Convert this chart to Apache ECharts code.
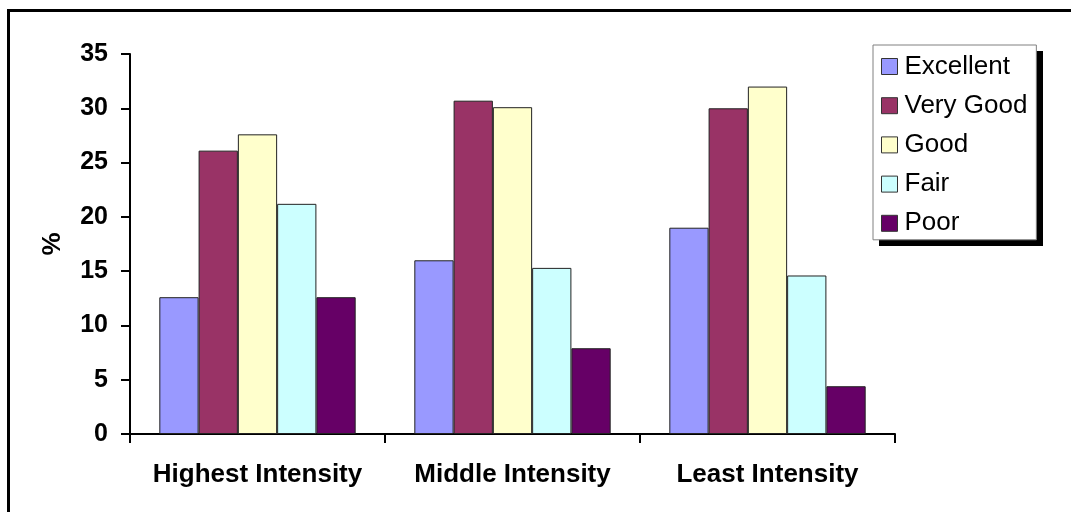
<!DOCTYPE html>
<html>
<head>
<meta charset="utf-8">
<script src="https://cdn.jsdelivr.net/npm/echarts@6/dist/echarts.min.js"></script>
<style>
  html, body { margin: 0; padding: 0; background: #fff; }
  #chart { width: 1071px; height: 512px; }
</style>
</head>
<body>
<div id="chart"></div>
<script>
// Self-rated health by intensity group (%)
const categories = ['Highest Intensity', 'Middle Intensity', 'Least Intensity'];
const seriesNames = ['Excellent', 'Very Good', 'Good', 'Fair', 'Poor'];
const excellent = [12.6, 16.0, 19.0];
const veryGood = [26.1, 30.7, 30.0];
const good = [27.6, 30.1, 32.0];
const fair = [21.2, 15.3, 14.6];
const poor = [12.6, 7.9, 4.4];
const colors = ['#9999FF', '#993366', '#FFFFCC', '#CCFFFF', '#660066'];
const yTicks = [0, 5, 10, 15, 20, 25, 30, 35];

const values = [excellent, veryGood, good, fair, poor];
const FONT = '"Liberation Sans", Arial, sans-serif';

const chart = echarts.init(document.getElementById('chart'), null, { renderer: 'canvas' });

chart.setOption({
  animation: false,
  backgroundColor: '#ffffff',
  textStyle: { fontFamily: FONT },
  graphic: [
    // outer chart frame (left and top edges visible)
    { type: 'polyline', silent: true, z: 0,
      shape: { points: [[8.5, 520], [8.5, 10.5], [1080, 10.5]] },
      style: { stroke: '#000', lineWidth: 3, fill: null } },
    // solid drop shadow behind the legend box
    { type: 'rect', silent: true, z: 0,
      shape: { x: 879, y: 51, width: 164, height: 195 },
      style: { fill: '#000' } }
  ],
  grid: { left: 130, right: 176, top: 54, bottom: 78 },
  legend: {
    orient: 'vertical',
    left: 873,
    top: 45,
    padding: [8.5, 9, 3.5, 8],
    backgroundColor: '#fff',
    borderColor: '#808080',
    borderWidth: 1,
    itemWidth: 16,
    itemHeight: 16,
    itemGap: 13.2,
    icon: 'rect',
    itemStyle: { borderColor: '#333', borderWidth: 1 },
    textStyle: { fontFamily: FONT, fontSize: 26, color: '#000', lineHeight: 25, padding: [0, 0, 0, 2] },
    data: seriesNames
  },
  xAxis: {
    type: 'category',
    data: categories,
    axisLine: { lineStyle: { color: '#000', width: 2 } },
    axisTick: { show: true, interval: 0, length: 9, lineStyle: { color: '#000', width: 2 } },
    axisLabel: { interval: 0, hideOverlap: false, fontFamily: FONT, fontSize: 26, fontWeight: 'bold', color: '#000', margin: 28 },
    splitLine: { show: false }
  },
  yAxis: {
    type: 'value',
    min: yTicks[0],
    max: yTicks[yTicks.length - 1],
    interval: 5,
    name: '%',
    nameLocation: 'middle',
    nameGap: 64,
    nameRotate: 90,
    nameTextStyle: { fontFamily: FONT, fontSize: 26, fontWeight: 'bold', color: '#000' },
    axisLine: { show: true, lineStyle: { color: '#000', width: 2 } },
    axisTick: { show: true, length: 9, lineStyle: { color: '#000', width: 2 } },
    axisLabel: { fontFamily: FONT, fontSize: 25, fontWeight: 'bold', color: '#000', margin: 22 },
    splitLine: { show: false }
  },
  series: seriesNames.map((name, i) => ({
    name: name,
    type: 'bar',
    data: values[i],
    barGap: '0%',
    barCategoryGap: '23%',
    itemStyle: { color: colors[i], borderColor: '#222', borderWidth: 1 }
  }))
});
</script>
</body>
</html>
